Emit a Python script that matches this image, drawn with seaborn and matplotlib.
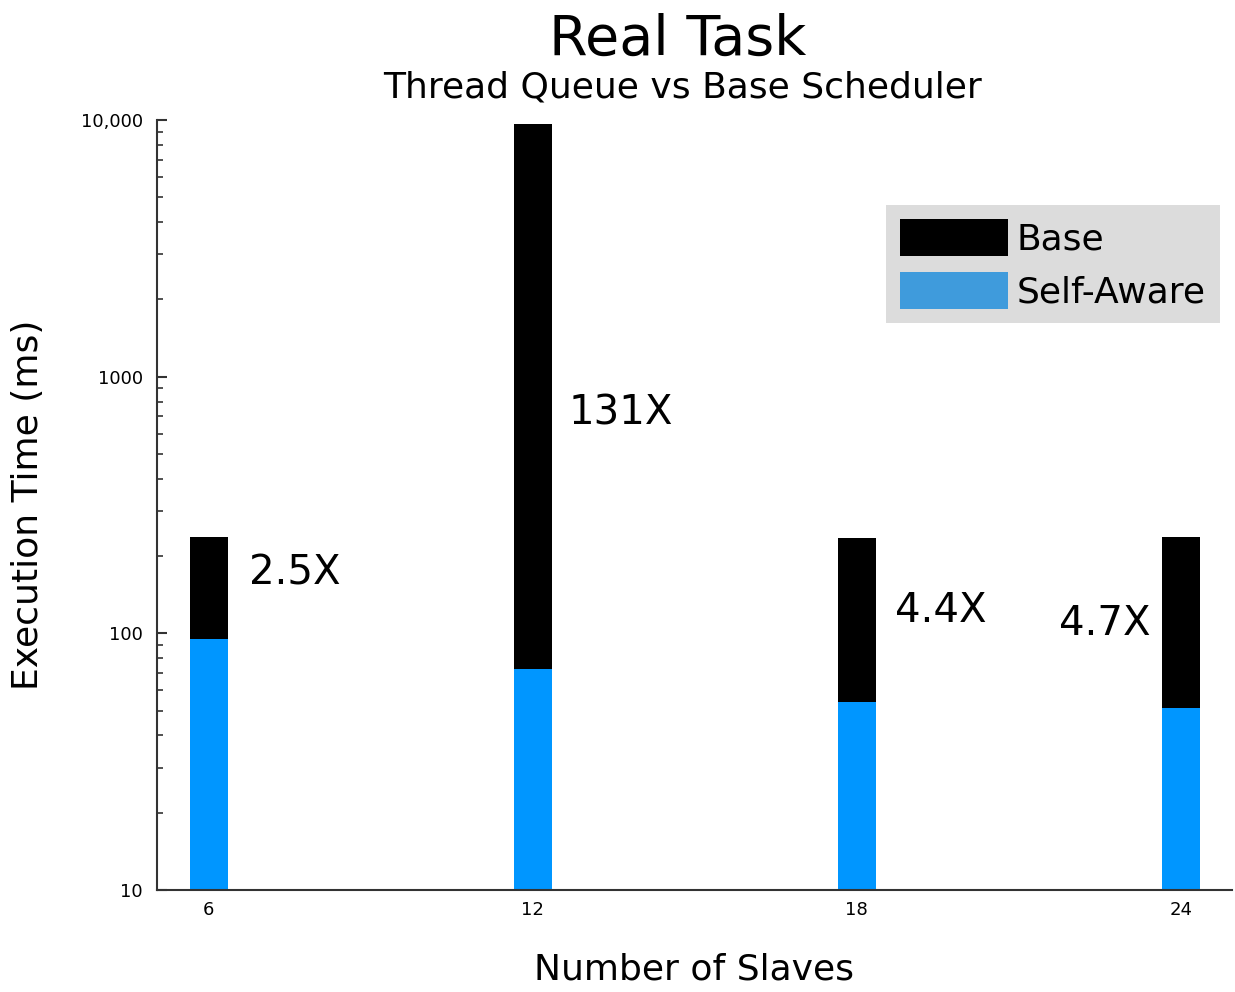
import matplotlib
matplotlib.use("Agg")
import matplotlib.pyplot as plt
import seaborn as sns
import pandas as pd
from matplotlib.patches import Patch
from matplotlib.ticker import FixedLocator, FixedFormatter, LogLocator, NullFormatter

# Data
slaves = [6, 12, 18, 24]
base_ms = [237, 9640, 235, 237]
self_aware_ms = [95, 72.6, 54, 51]
speedup_labels = ["2.5X", "131X", "4.4X", "4.7X"]
label_x = [6.74, 12.67, 18.70, 21.74]
label_y = [171, 716, 122, 109]

df = pd.DataFrame({"slaves": slaves, "Base": base_ms, "Self-Aware": self_aware_ms})

sns.set_style("white")
plt.rcParams['font.family'] = ['DejaVu Sans']
plt.rcParams['text.color'] = 'black'
plt.rcParams['axes.labelcolor'] = 'black'
plt.rcParams['xtick.color'] = 'black'
plt.rcParams['ytick.color'] = 'black'

fig = plt.figure(figsize=(12.35, 9.92), dpi=100)
ax = fig.add_axes([0.127, 0.1028, 0.8706, 0.7762])
ax.set_yscale('log')

bw = 0.7 / 6
sns.barplot(data=df, x="slaves", y="Base", native_scale=True, width=bw,
            color="black", saturation=1, ax=ax, edgecolor="none", linewidth=0)
sns.barplot(data=df, x="slaves", y="Self-Aware", native_scale=True, width=bw,
            color="#0096FF", saturation=1, ax=ax, edgecolor="none", linewidth=0)

ax.set_xlim(5.04, 24.95)
ax.set_ylim(10, 10000)

ax.xaxis.set_major_locator(FixedLocator(slaves))
ax.set_xticklabels([str(s) for s in slaves])
ax.yaxis.set_major_locator(FixedLocator([10, 100, 1000, 10000]))
ax.yaxis.set_major_formatter(FixedFormatter(["10", "100", "1000", "10,000"]))
ax.yaxis.set_minor_locator(LogLocator(base=10, subs=range(2, 10)))
ax.yaxis.set_minor_formatter(NullFormatter())

for s in ["top", "right"]:
    ax.spines[s].set_visible(False)
for s in ["left", "bottom"]:
    ax.spines[s].set_color("#333333")
    ax.spines[s].set_linewidth(1.5)

ax.tick_params(axis='both', which='major', direction='in', length=7, width=1.5,
               labelsize=13, color="#333333", left=True, bottom=True)
ax.tick_params(axis='y', which='minor', direction='in', length=4, width=1.2,
               color="#333333", left=True)
ax.tick_params(axis='x', pad=8)
ax.tick_params(axis='y', pad=10)

for t, xx, yy in zip(speedup_labels, label_x, label_y):
    ax.text(xx, yy, t, fontsize=29, ha='left', va='center')

ax.set_xlabel("Number of Slaves", fontsize=26, labelpad=24)
ax.set_ylabel("Execution Time (ms)", fontsize=26, labelpad=26)

fig.text(0.549, 0.96, "Real Task", fontsize=40, ha='center', va='center')
fig.text(0.553, 0.912, "Thread Queue vs Base Scheduler", fontsize=26, ha='center', va='center')

handles = [Patch(facecolor="black", edgecolor="none", label="Base"),
           Patch(facecolor="#3F9BDC", edgecolor="none", label="Self-Aware")]
leg = ax.legend(handles=handles, loc='upper right', bbox_to_anchor=(0.9885, 0.8895),
                fontsize=26, frameon=True, fancybox=False, facecolor="#DCDCDC",
                edgecolor="none", framealpha=1, handlelength=3.0, handleheight=1.2,
                handletextpad=0.25, borderpad=0.38, labelspacing=0.42, borderaxespad=0)

fig.savefig("out.png", dpi=100)
